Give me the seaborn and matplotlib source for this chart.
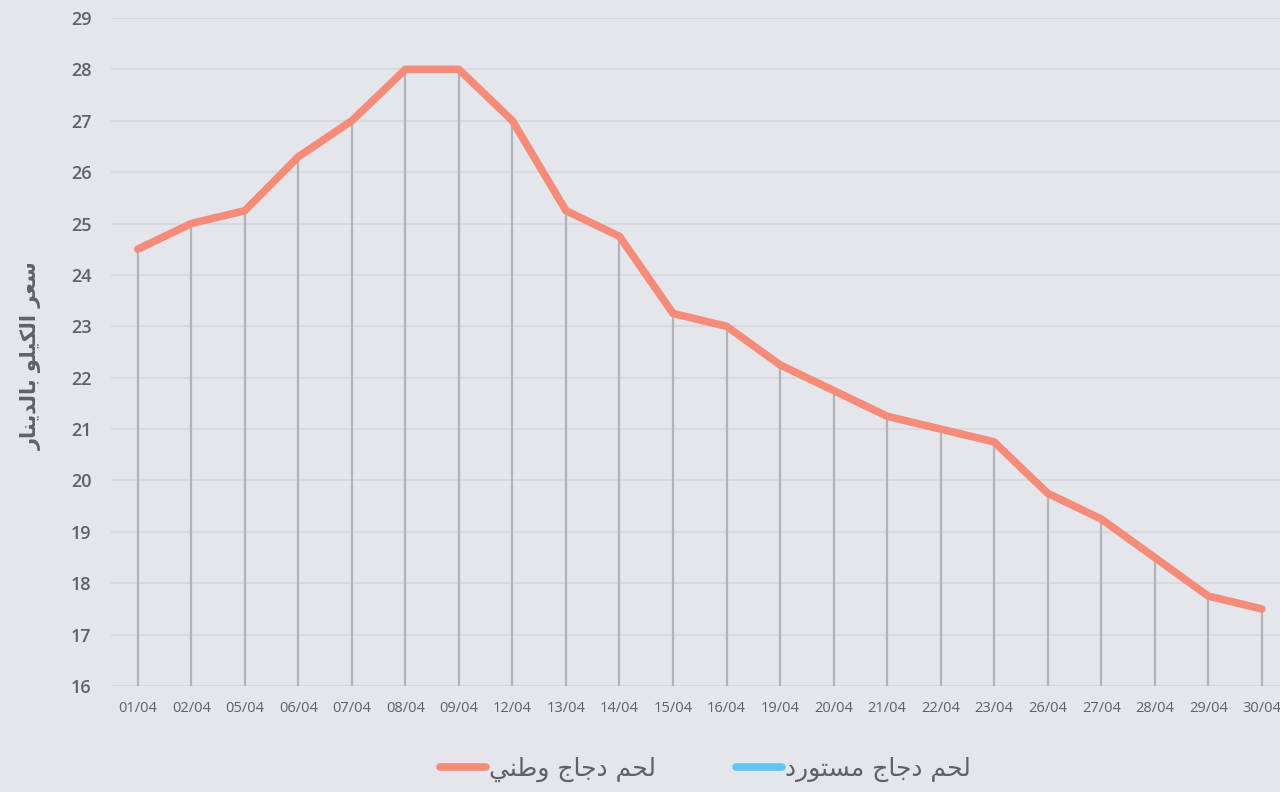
import numpy as np
import pandas as pd
import seaborn as sns
import matplotlib.pyplot as plt
from matplotlib.lines import Line2D

# data
dates = ['01/04', '02/04', '05/04', '06/04', '07/04', '08/04', '09/04', '12/04',
         '13/04', '14/04', '15/04', '16/04', '19/04', '20/04', '21/04', '22/04',
         '23/04', '26/04', '27/04', '28/04', '29/04', '30/04']
local_chicken = [24.5, 25.0, 25.25, 26.3, 27.0, 28.0, 28.0, 27.0,
                 25.25, 24.75, 23.25, 23.0, 22.25, 21.75, 21.25, 21.0,
                 20.75, 19.75, 19.25, 18.5, 17.75, 17.5]
imported_chicken = []  # no values shown, legend only
y_ticks = list(range(16, 30))

label_local = 'لحم دجاج وطني'
label_imported = 'لحم دجاج مستورد'
label_y = 'سعر الكيلو بالدينار'

# matplotlib has no arabic shaping: map letters to presentation forms, then reverse
FORMS = {  # isolated, final, initial, medial
    'ا': (0xFE8D, 0xFE8E, None, None), 'ب': (0xFE8F, 0xFE90, 0xFE91, 0xFE92),
    'ت': (0xFE95, 0xFE96, 0xFE97, 0xFE98), 'ج': (0xFE9D, 0xFE9E, 0xFE9F, 0xFEA0),
    'ح': (0xFEA1, 0xFEA2, 0xFEA3, 0xFEA4), 'د': (0xFEA9, 0xFEAA, None, None),
    'ر': (0xFEAD, 0xFEAE, None, None), 'س': (0xFEB1, 0xFEB2, 0xFEB3, 0xFEB4),
    'ط': (0xFEC1, 0xFEC2, 0xFEC3, 0xFEC4), 'ع': (0xFEC9, 0xFECA, 0xFECB, 0xFECC),
    'ك': (0xFED9, 0xFEDA, 0xFEDB, 0xFEDC), 'ل': (0xFEDD, 0xFEDE, 0xFEDF, 0xFEE0),
    'م': (0xFEE1, 0xFEE2, 0xFEE3, 0xFEE4), 'ن': (0xFEE5, 0xFEE6, 0xFEE7, 0xFEE8),
    'و': (0xFEED, 0xFEEE, None, None), 'ي': (0xFEF1, 0xFEF2, 0xFEF3, 0xFEF4),
}


def shape(text):
    out = []
    for i, ch in enumerate(text):
        if ch not in FORMS:
            out.append(ch)
            continue
        prev = text[i - 1] if i > 0 else ''
        nxt = text[i + 1] if i + 1 < len(text) else ''
        joins_prev = prev in FORMS and FORMS[prev][2] is not None
        joins_next = FORMS[ch][2] is not None and nxt in FORMS
        f = FORMS[ch]
        if joins_prev and joins_next:
            code = f[3]
        elif joins_prev:
            code = f[1]
        elif joins_next:
            code = f[2]
        else:
            code = f[0]
        out.append(chr(code))
    return ''.join(out)[::-1]


bg = '#e5e6eb'
text_col = '#5f6068'
salmon = '#f58b78'
blue = '#5cc8f0'

sns.set_style('white')
plt.rcParams['font.family'] = ['Open Sans', 'DejaVu Sans']

fig = plt.figure(figsize=(12.8, 7.92), dpi=100, facecolor=bg)
ax = fig.add_axes([0.0867, 0.1338, 0.9133, 0.9773 - 0.1338])
ax.set_facecolor(bg)

x = np.arange(len(dates))
df = pd.DataFrame({'x': x, 'price': local_chicken})

ax.vlines(x, y_ticks[0], local_chicken, color='#b2b3b8', lw=1.6, zorder=2)
sns.lineplot(data=df, x='x', y='price', ax=ax, color=salmon, lw=5.5,
             solid_capstyle='round', solid_joinstyle='round', zorder=3)
ax.plot(imported_chicken, imported_chicken, color=blue, lw=5.5)

ax.set_ylim(16, 29)
ax.set_yticks(y_ticks)
ax.set_xlim(-0.5, 21.34)
ax.set_xticks(x)
ax.set_xticklabels(dates)
ax.grid(axis='y', color='#d8d9de', lw=1.5, zorder=0)
ax.grid(axis='x', visible=False)
for s in ax.spines.values():
    s.set_visible(False)
ax.tick_params(axis='x', length=0, pad=11, labelsize=10.5, labelcolor=text_col)
ax.tick_params(axis='y', length=0, pad=14, labelsize=13, labelcolor=text_col)
for lab in ax.get_yticklabels():
    lab.set_fontweight('semibold')
ax.set_xlabel('')
ax.set_ylabel(shape(label_y), family=['DejaVu Sans'], fontsize=15,
              fontweight='bold', color=text_col)
ax.yaxis.set_label_coords(-0.059, 0.495)

handles = [Line2D([], [], color=salmon, lw=5.5, solid_capstyle='round'),
           Line2D([], [], color=blue, lw=5.5, solid_capstyle='round')]
fig.legend(handles, [shape(label_local), shape(label_imported)],
           loc='center', bbox_to_anchor=(0.551, 0.028), ncol=2, frameon=False,
           handlelength=1.85, handletextpad=0.1, columnspacing=3.2,
           prop={'family': ['DejaVu Sans'], 'size': 18}, labelcolor=text_col)

fig.savefig('out.png', dpi=100, facecolor=bg)
